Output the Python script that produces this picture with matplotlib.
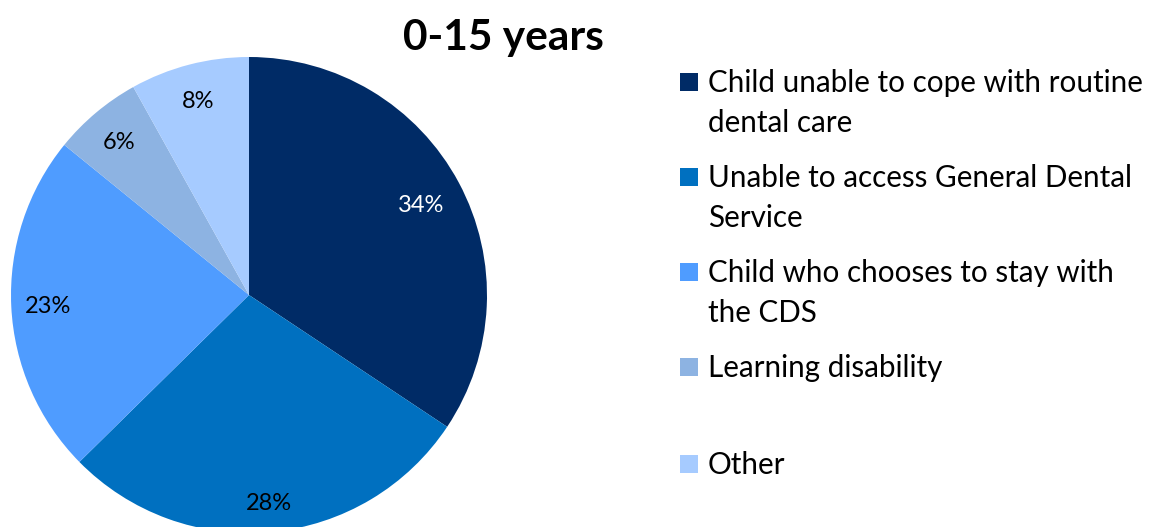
import matplotlib
matplotlib.use("Agg")
import matplotlib.pyplot as plt
from matplotlib.patches import Rectangle
import numpy as np

plt.rcParams['font.family'] = ['Lato', 'DejaVu Sans']

title = "0-15 years"
categories = [
    "Child unable to cope with routine\ndental care",
    "Unable to access General Dental\nService",
    "Child who chooses to stay with\nthe CDS",
    "Learning disability",
    "Other",
]
shares = [34, 28, 23, 6, 8]

colors = ["#002B66", "#0070C0", "#4F9CFF", "#8DB3E2", "#A6CBFF"]
label_colors = ["white", "black", "black", "black", "black"]
label_radius = [0.82, 0.87, 0.845, 0.85, 0.85]

W, H = 1161, 527
fig = plt.figure(figsize=(W / 100, H / 100), dpi=100)
fig.patch.set_facecolor("white")

# Pie axes: centre (249, 295) px from top-left, radius 238 px
cx, cy, r = 249, 295, 238
ax = fig.add_axes([(cx - r) / W, (H - cy - r) / H, 2 * r / W, 2 * r / H])
wedges, _ = ax.pie(shares, colors=colors, startangle=90, counterclock=False,
                   radius=1.0, wedgeprops=dict(linewidth=0))
ax.set_xlim(-1, 1)
ax.set_ylim(-1, 1)
ax.set_aspect("equal", adjustable="box")
ax.axis("off")

# Percentage labels inside each slice
for w, v, tc, d in zip(wedges, shares, label_colors, label_radius):
    mid = np.deg2rad((w.theta1 + w.theta2) / 2)
    ax.text(d * np.cos(mid), d * np.sin(mid) - 0.01, f"{v}%", ha="center", va="center",
            fontsize=17, color=tc)

fig.text(503 / W, 1 - 50 / H, title, ha="center", va="baseline",
         fontsize=30.5, fontweight="bold")

# Legend: coloured squares with wrapped labels
sq = 18
tops = [73, 168, 263, 358, 455]
for lab, col, top in zip(categories, colors, tops):
    fig.patches.append(Rectangle((680 / W, 1 - (top + sq) / H), sq / W, sq / H,
                                 transform=fig.transFigure, facecolor=col,
                                 edgecolor="none"))
    fig.text(708 / W, 1 - (top - 4) / H, lab, ha="left", va="top",
             fontsize=21.3, linespacing=1.52)

fig.savefig("out.png", dpi=100)
